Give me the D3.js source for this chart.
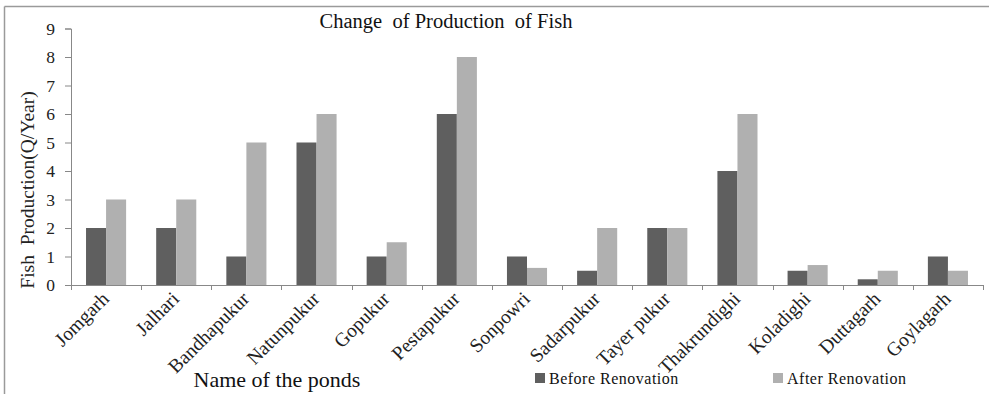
<!DOCTYPE html>
<html>
<head>
<meta charset="utf-8">
<script src="https://cdn.jsdelivr.net/npm/d3@7"></script>
<style>
  html, body { margin: 0; padding: 0; background: #fff; }
  svg { display: block; font-family: "Liberation Serif", "Times New Roman", serif; }
  text { white-space: pre; font-family: "Liberation Serif", "Times New Roman", serif; }
</style>
</head>
<body>
<svg id="chart" width="989" height="394"></svg>
<script>
// Pond names and fish production (quintal / year)
const ponds = ["Jomgarh", "Jalhari", "Bandhapukur", "Natunpukur", "Gopukur", "Pestapukur",
  "Sonpowri", "Sadarpukur", "Tayer pukur", "Thakrundighi", "Koladighi", "Duttagarh", "Goylagarh"];
const beforeRenovation = [2, 2, 1, 5, 1, 6, 1, 0.5, 2, 4, 0.5, 0.2, 1];
const afterRenovation  = [3, 3, 5, 6, 1.5, 8, 0.6, 2, 2, 6, 0.7, 0.5, 0.5];
const seriesNames = ["Before Renovation", "After Renovation"];
const seriesColors = ["#5f5f5f", "#b0b0b0"];
const yTicks = [0, 1, 2, 3, 4, 5, 6, 7, 8, 9];

const svg = d3.select("#chart");

// outer frame (top and left edges)
svg.append("line").attr("x1", 4.5).attr("x2", 989).attr("y1", 6.5).attr("y2", 6.5)
  .attr("stroke", "#9a9a9a").attr("stroke-width", 1.5);
svg.append("line").attr("x1", 4.5).attr("x2", 4.5).attr("y1", 6.5).attr("y2", 394)
  .attr("stroke", "#9a9a9a").attr("stroke-width", 1.5);

const plot = { left: 71, right: 983, top: 28.5, bottom: 285 };

const x0 = d3.scaleBand().domain(ponds).range([plot.left, plot.right]).padding(0);
const x1 = d3.scaleBand().domain(seriesNames).range([0, x0.bandwidth()])
  .paddingInner(0).paddingOuter(0.75);
const y = d3.scaleLinear().domain([0, 9]).range([plot.bottom, plot.top]);

const rows = ponds.map((p, i) => ({ pond: p, values: [beforeRenovation[i], afterRenovation[i]] }));

// bars
const groups = svg.append("g").selectAll("g").data(rows).join("g")
  .attr("transform", d => `translate(${x0(d.pond)},0)`);
groups.selectAll("rect")
  .data(d => d.values.map((v, k) => ({ key: seriesNames[k], value: v, k })))
  .join("rect")
  .attr("x", d => x1(d.key))
  .attr("width", x1.bandwidth())
  .attr("y", d => y(d.value))
  .attr("height", d => y(0) - y(d.value))
  .attr("fill", d => seriesColors[d.k]);

// y axis
const yAxis = svg.append("g").attr("transform", `translate(${plot.left},0)`)
  .call(d3.axisLeft(y).tickValues(yTicks).tickFormat(d3.format("d")).tickSize(6).tickPadding(10));
yAxis.attr("font-family", null).attr("font-size", null);
yAxis.select(".domain").attr("stroke", "#888");
yAxis.selectAll(".tick line").attr("stroke", "#888");
yAxis.selectAll(".tick text").style("font-size", "17.5px").attr("fill", "#222");

// x axis: ticks between categories
const boundaries = ponds.map(p => x0(p)).concat([plot.right]);
const xAxisG = svg.append("g");
xAxisG.append("line").attr("x1", plot.left).attr("x2", plot.right)
  .attr("y1", plot.bottom + 0.5).attr("y2", plot.bottom + 0.5).attr("stroke", "#888");
xAxisG.selectAll("line.tk").data(boundaries).join("line").attr("class", "tk")
  .attr("x1", d => Math.round(d) + 0.5).attr("x2", d => Math.round(d) + 0.5)
  .attr("y1", plot.bottom).attr("y2", plot.bottom + 5).attr("stroke", "#888");

// rotated category labels
xAxisG.selectAll("text").data(ponds).join("text")
  .attr("transform", d => `translate(${x0(d) + x0.bandwidth() / 2 + 4},${plot.bottom + 15}) rotate(-45)`)
  .attr("text-anchor", "end")
  .style("font-size", "19.5px")
  .attr("fill", "#222")
  .text(d => d);

// titles
svg.append("text").attr("x", 446).attr("y", 28).attr("text-anchor", "middle")
  .style("font-size", "20.5px").attr("fill", "#111").text("Change  of Production  of Fish");

svg.append("text").attr("transform", "translate(34,190) rotate(-90)")
  .attr("text-anchor", "middle").style("font-size", "19.5px").attr("fill", "#222")
  .text("Fish  Production(Q/Year)");

svg.append("text").attr("x", 277).attr("y", 387).attr("text-anchor", "middle")
  .style("font-size", "22px").attr("fill", "#111").text("Name of the ponds");

// legend
const legendX = [535, 773];
const legend = svg.append("g").selectAll("g").data(seriesNames).join("g")
  .attr("transform", (d, i) => `translate(${legendX[i]},0)`);
legend.append("rect").attr("x", 0).attr("y", 373).attr("width", 10).attr("height", 10)
  .attr("fill", (d, i) => seriesColors[i]);
legend.append("text").attr("x", 14).attr("y", 384).style("font-size", "16px")
  .attr("letter-spacing", 0.5).attr("fill", "#111").text(d => d);
</script>
</body>
</html>
